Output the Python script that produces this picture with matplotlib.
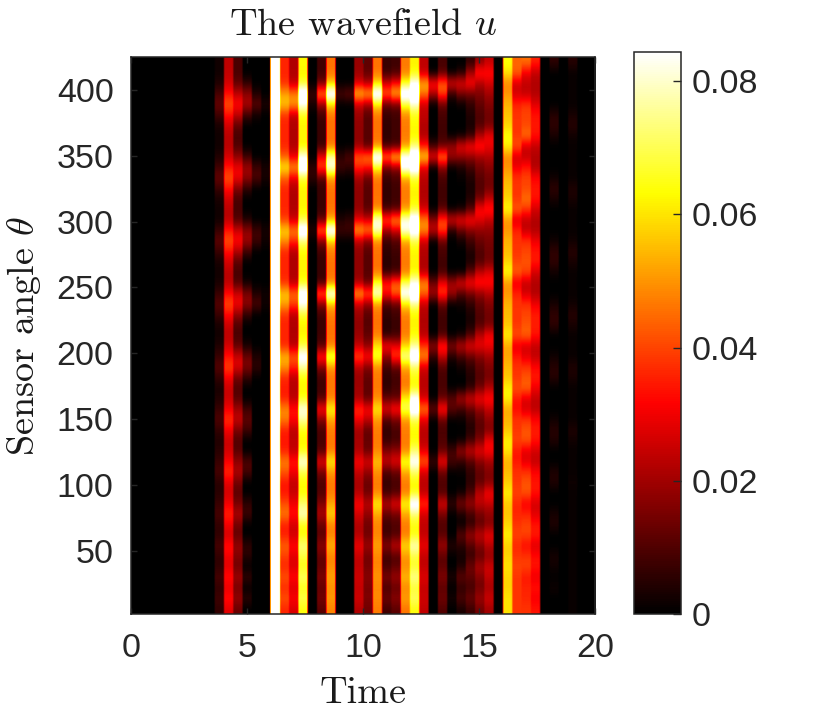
import numpy as np
import matplotlib
matplotlib.use("Agg")
import matplotlib.pyplot as plt
from matplotlib.colors import LinearSegmentedColormap

# Wavefield values in units of 0.001.
# Each list runs from the top row of the panel to the bottom row (53 rows).
col_09 = [2,2,4,9,13,8,3, 2,2,4,8,13,7, 3,2,2,7,12,7,3, 2,3,7,11,7,3, 2,4,7,11,6, 3,4,7,10,6, 4,5,7,9,5, 5,7,9,6, 6,9,6, 6,9, 6,8,6]
col_10 = [24,24,26,33,42,33,26, 23,23,26,34,42,33, 26,23,23,34,42,33,26, 23,23,32,41,32,25, 23,26,33,40,30, 25,25,30,38,30, 25,26,31,37,28, 26,30,36,30, 26,34,30, 28,34, 28,34,28]
col_11 = [9,9,12,24,33,24,12, 9,10,18,30,30,16, 9,9,10,26,33,22,11, 9,10,26,31,18,10, 9,12,26,28,14, 10,11,20,25,15, 10,11,18,22,14, 11,15,22,14, 12,19,16, 14,20, 14,19,13]
col_12 = [0,0,6,18,22,8,0, 0,0,8,20,18,6, 0,0,4,18,20,8,0, 0,2,16,18,6,0, 0,3,14,16,6, 0,0,8,12,8, 0,0,10,9,0, 0,6,8,0, 0,6,5, 0,7, 0,6,0]
col_13 = [0,0,0,4,12,2,0, 0,0,0,8,10,0, 0,0,0,8,8,0,0, 0,0,4,10,0,0, 0,0,4,6,0] + [0]*22
col_14 = [0,0,0,0,4,0,0, 0,0,0,3,3,0, 0,0,0,3,2,0,0, 0,0,2,2,0,0] + [0]*27
col_15 = [100]*53
col_16 = [36,36,37,52,57,37,36, 36,36,43,62,43,36, 36,36,39,59,49,36,36, 36,37,57,52,37,36, 36,36,55,50,36, 35,35,49,47,35, 34,35,48,42,34, 34,41,47,35, 35,44,39, 36,42, 36,42,36]
col_17 = [22,22,24,48,52,24,22, 22,22,29,52,29,22, 22,22,25,49,37,22,22, 22,23,46,40,23,22, 22,23,44,36,23, 23,23,34,32,23, 24,24,35,30,24, 25,30,34,26, 26,33,28, 27,33, 27,32,27]
col_18 = [63,62,66,95,84,64,62, 62,62,84,95,66,62, 62,62,68,95,72,63,62, 62,64,92,84,66,62, 62,68,90,76,63, 62,64,84,76,64, 62,64,84,68,63, 63,72,80,64, 63,74,68, 64,72, 64,70,64]
col_19 = [0,0,0,8,3,0,0, 0,0,0,6,6,0, 0,0,0,5,0,0,0] + [0]*33
col_20 = [8,8,14,50,18,8,7, 7,7,30,42,10,7, 7,7,12,48,16,8,7, 7,8,46,16,8,7, 8,10,38,16,8, 8,10,34,16,9, 9,10,30,14,10, 10,16,22,13, 11,18,12, 12,16, 12,15,11]
col_21 = [46,46,56,95,58,46,46, 46,46,78,84,50,46, 46,46,52,95,56,47,46, 46,47,90,54,47,46, 46,47,72,50,46, 47,47,64,52,47, 47,47,62,50,47, 47,52,58,48, 48,54,48, 49,52, 49,51,48]
col_22 = [0,0,0,10,0,0,0, 0,0,6,8,0,0, 0,0,4,8,0,0,0] + [0]*33
col_23 = [0,0,0,12,0,0,0, 0,0,10,6,0,0, 0,0,6,8,0,0,0] + [0]*33
col_24 = [19,19,26,58,24,19,18, 18,18,44,36,20,18, 18,18,28,54,22,18,18, 18,20,54,24,19,18, 19,24,42,22,19, 20,20,38,30,20, 21,21,32,24,21, 22,32,26,22, 22,30,24, 24,26, 24,26,22]
col_25 = [12,12,22,55,20,11,11, 11,11,48,34,13,11, 11,11,26,50,16,11,11, 11,13,45,18,11,11, 12,18,35,16,12, 12,12,33,24,12, 13,13,28,18,13, 14,24,18,14, 14,20,14, 15,17, 15,16,14]
col_26 = [46,46,58,95,60,46,46, 46,48,95,64,46,46, 46,48,84,80,48,46,46, 46,66,84,50,46,46, 47,60,68,48,47, 47,48,62,50,47, 47,48,56,49,47, 48,62,52,48, 48,52,48, 48,50, 48,49,47]
col_27 = [7,7,26,46,12,7,6, 6,8,50,14,7,6, 6,8,44,20,7,6,5, 6,36,34,9,6,5, 6,34,18,8,6, 6,12,30,10,6, 7,16,26,9,7, 8,24,12,8, 8,18,8, 9,16, 9,14,8]
col_28 = [8,9,32,56,14,8,8, 8,9,60,18,9,8, 8,10,52,26,10,8,7, 8,44,44,12,8,7, 8,30,40,12,8, 9,12,36,14,9, 9,18,30,12,9, 10,30,14,10, 10,25,10, 12,20, 12,18,11]
col_29 = [47,47,66,95,68,48,47, 47,50,88,90,52,47, 47,50,84,84,52,47,47, 47,70,90,60,47,47, 47,58,78,52,47, 47,62,72,50,47, 47,48,68,52,47, 47,65,52,47, 47,60,50, 49,55, 48,52,46]
col_30 = [62,63,85,100,80,64,63, 62,72,100,95,66,62, 62,66,95,92,68,62,62, 62,84,100,74,62,62, 63,76,95,70,64, 63,88,95,68,63, 63,72,88,70,63, 64,92,72,64, 64,80,68, 66,76, 66,72,64]
col_31 = [24,24,54,46,25,24,22, 22,34,60,28,23,22, 22,26,48,50,25,22,22, 22,50,44,24,22,22, 23,38,50,26,23, 23,26,48,28,23, 23,28,44,26,23, 24,38,26,24, 24,30,24, 24,28, 24,26,24]
col_32 = [0,0,36,22,0,0,0, 0,8,33,0,0,0, 0,0,18,26,0,0,0, 0,14,22,0,0,0, 0,20,6,0,0, 0,0,14,0,0, 0,0,8,0,0] + [0]*12
col_33 = [9,10,44,40,12,9,8, 8,12,50,16,9,8, 8,10,40,40,12,9,8, 8,30,40,12,8,8, 9,38,24,10,9, 9,12,36,12,9, 10,12,32,12,10, 10,28,14,10, 11,20,11, 12,16, 11,14,10]
col_34 = [0,0,30,6,0,0,0, 0,20,20,0,0,0, 0,0,30,4,0,0,0, 0,22,20,0,0,0, 0,18,4,0,0, 0,12,12,0,0, 0,9,9,0,0, 0,7,0,0, 0,5,0, 0,4, 0,3,0]
col_35 = [0,4,30,14,1,0,0, 1,30,18,3,1,0, 0,2,32,12,2,0,0, 0,30,10,2,0,0, 2,25,8,2,0, 0,22,8,1,0, 1,20,6,1,0, 2,16,3,1, 12,5,2, 4,12, 5,10,3]
col_36 = [6,20,33,14,6,4,3, 6,34,18,8,4,3, 4,10,34,16,8,4,3, 12,34,14,6,3,3, 10,30,12,6,4, 5,28,12,6,4, 8,26,10,6,5, 10,20,8,6, 20,10,7, 14,12, 8,14,7]
col_37 = [18,36,22,16,12,10,10, 22,36,20,14,11,10, 14,34,28,18,13,10,10, 24,36,18,12,10,10, 24,30,16,12,10, 14,32,18,12,11, 16,30,16,12,12, 24,24,14,12, 25,16,12, 22,16, 14,20,14]
col_38 = [24,34,26,20,16,14,14, 30,30,22,17,14,14, 24,36,24,18,15,14,14, 28,34,22,16,14,14, 32,30,20,16,14, 22,34,24,18,15, 30,32,20,16,16, 32,24,18,16, 30,22,18, 26,24, 20,26,20]
col_40 = [64,60,48,50,54,56,58, 64,62,48,50,54,56, 58,64,50,50,54,55,58, 64,50,50,54,55,56, 62,52,52,55,56, 62,62,52,54,56, 62,60,53,55,57, 62,56,56,58, 62,57,58, 60,58, 58,60,60]
col_41 = [44,44,26,26,36,38,38, 38,42,26,30,38,38, 38,44,26,36,38,38,40, 44,28,36,38,38,38, 42,28,34,38,38, 42,34,32,38,38, 40,34,34,38,38, 40,36,36,38, 40,36,38, 40,38, 38,38,38]
col_42 = [46,30,24,24,38,40,40, 46,26,24,34,40,40, 46,38,24,24,38,40,42, 40,24,26,38,40,42, 44,26,28,38,42, 44,28,26,38,42, 42,28,28,38,42, 42,30,36,40, 40,32,38, 40,34, 36,36,38]
col_43 = [36,24,22,22,28,34,34, 34,24,22,22,32,34, 34,26,22,22,30,34,35, 26,22,22,30,35,35, 34,24,24,32,35, 30,24,23,32,35, 34,26,24,32,34, 34,26,28,34, 35,27,33, 34,29, 34,30,34]
col_45 = [6,0,0,0,0,5,6, 3,0,0,0,2,6, 3,0,0,0,2,6,6, 2,0,0,3,6,6, 0,0,2,5,5, 0,0,0,2,5, 4,0,0,4,4, 0,0,3,4, 0,0,3, 2,0, 2,0,0]
col_47 = [5,1,1,1,1,3,5, 2,1,1,1,1,4, 3,1,1,1,2,5,3, 1,1,1,2,5,3, 1,1,1,4,3, 1,1,1,1,4, 2,1,1,1,2, 1,1,1,1, 1,1,1, 1,1, 1,1,1]

column_values = {9: col_09, 10: col_10, 11: col_11, 12: col_12, 13: col_13, 14: col_14,
                 15: col_15, 16: col_16, 17: col_17, 18: col_18, 19: col_19, 20: col_20,
                 21: col_21, 22: col_22, 23: col_23, 24: col_24, 25: col_25, 26: col_26,
                 27: col_27, 28: col_28, 29: col_29, 30: col_30, 31: col_31, 32: col_32,
                 33: col_33, 34: col_34, 35: col_35, 36: col_36, 37: col_37, 38: col_38,
                 40: col_40, 41: col_41, 42: col_42, 43: col_43, 45: col_45, 47: col_47}

n_rows = 53
n_cols = 50
time_max = 20
theta_limits = (2, 425)
color_max = 0.0844
x_ticks = [0, 5, 10, 15, 20]
y_ticks = [50, 100, 150, 200, 250, 300, 350, 400]
cbar_ticks = [0, 0.02, 0.04, 0.06, 0.08]
cbar_labels = ["0", "0.02", "0.04", "0.06", "0.08"]

for k, v in column_values.items():
    assert len(v) == n_rows, (k, len(v))

field = np.zeros((n_rows, n_cols))
for k, v in column_values.items():
    field[:, k] = np.array(v) / 1000.0

DARK = "#262626"
W, H = 830, 720
plt.rcParams["font.family"] = ["Liberation Sans", "DejaVu Sans"]
plt.rcParams["mathtext.fontset"] = "cm"

hot = LinearSegmentedColormap.from_list(
    "matlab_hot", [(0, "#000000"), (0.375, "#ff0000"), (0.75, "#ffff00"), (1, "#ffffff")], N=256)

fig = plt.figure(figsize=(W / 100, H / 100), dpi=100)
ax = fig.add_axes([131 / W, 1 - 614 / H, 464 / W, 557 / H])
im = ax.imshow(np.repeat(field, 8, axis=1), cmap=hot, vmin=0, vmax=color_max, aspect="auto",
               extent=[0, time_max, theta_limits[0], theta_limits[1]], origin="upper",
               interpolation="bicubic", interpolation_stage="data")
ax.set_xlim(0, time_max)
ax.set_ylim(*theta_limits)
ax.set_xticks(x_ticks)
ax.set_yticks(y_ticks)
ax.tick_params(direction="in", length=4, width=1, top=True, right=True, color=DARK,
               labelcolor=DARK, labelsize=24.5)
ax.tick_params(axis="x", pad=14)
ax.tick_params(axis="y", pad=12.5)
for s in ax.spines.values():
    s.set_color(DARK)
    s.set_linewidth(1.1)

fig.text(363.5 / W, 1 - 25 / H, r"The wavefield $u$", family="cmr10", fontsize=27.5, color="#1a1a1a",
         ha="center", va="center")
fig.text(363 / W, 1 - 693 / H, "Time", family="cmr10", fontsize=27.5, color="#1a1a1a",
         ha="center", va="center")
fig.text(24 / W, 1 - 336 / H, r"Sensor angle $\theta$", family="cmr10", fontsize=27.5, color="#1a1a1a",
         ha="center", va="center", rotation=90)

cax = fig.add_axes([634 / W, 1 - 614 / H, 47 / W, 562 / H])
cb = fig.colorbar(im, cax=cax)
cb.set_ticks(cbar_ticks)
cb.set_ticklabels(cbar_labels)
cax.tick_params(direction="in", length=5.5, width=1, color=DARK, labelcolor=DARK, labelsize=24.5, pad=8)
cb.outline.set_edgecolor(DARK)
cb.outline.set_linewidth(1.1)

fig.savefig("out.png", dpi=100)
